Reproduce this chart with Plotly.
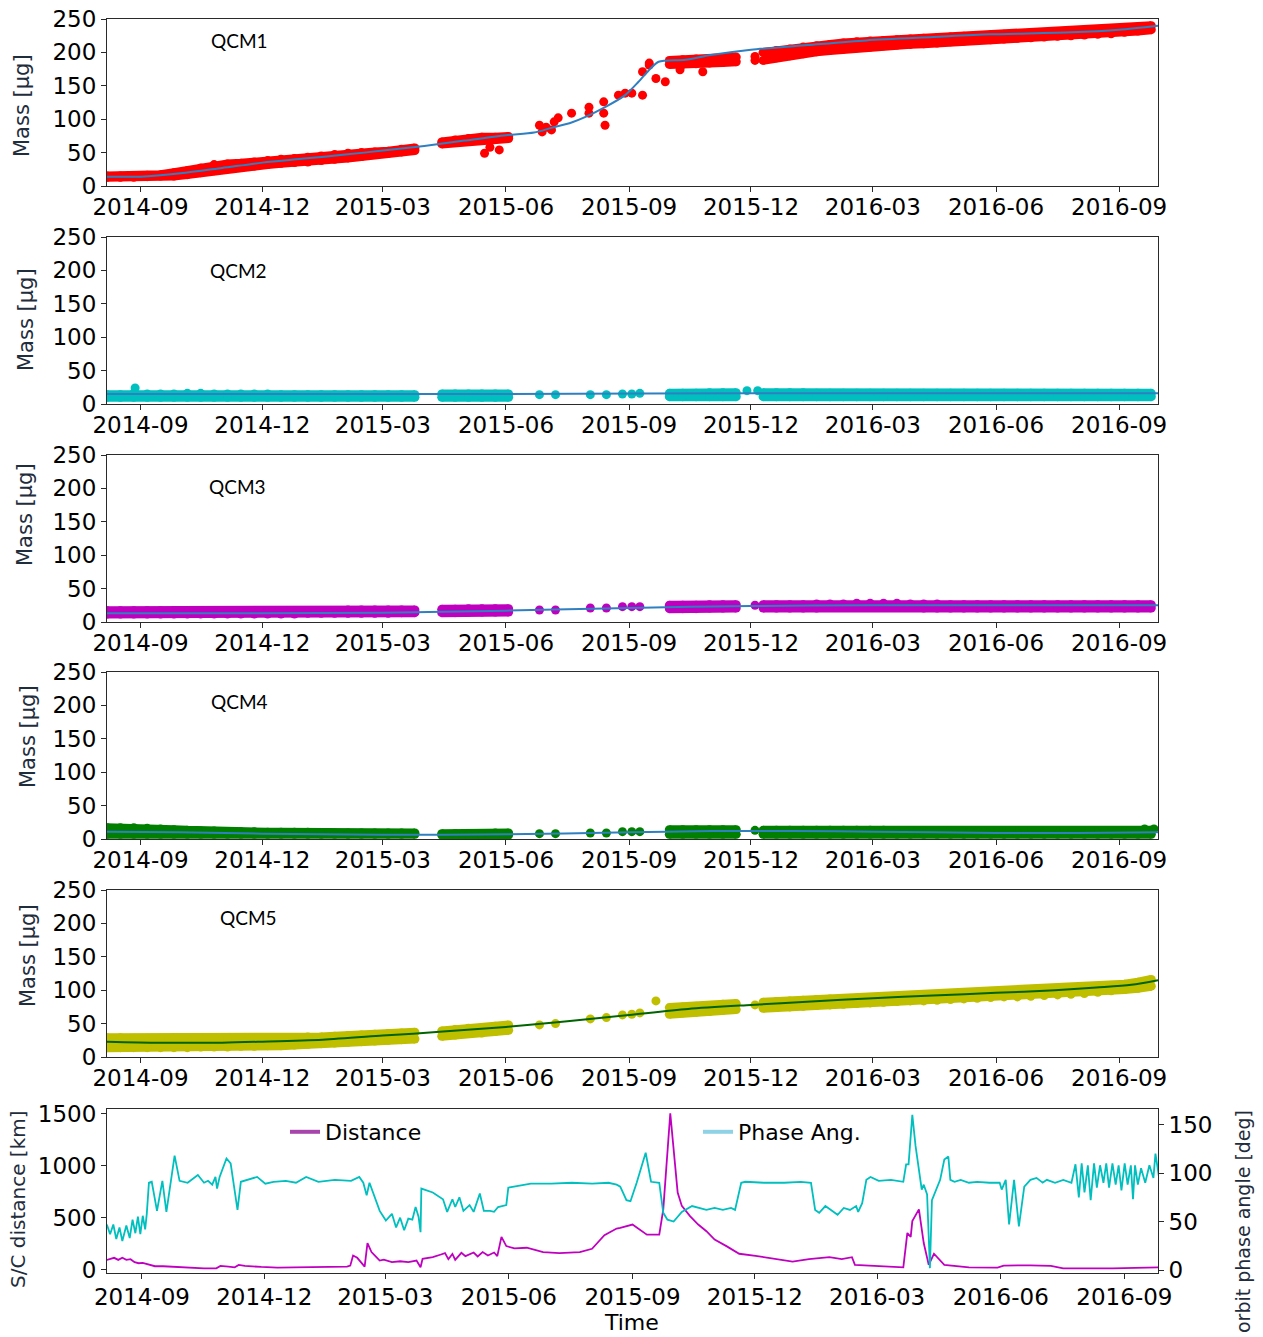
import pandas as pd
import plotly.graph_objects as go

# ---------------------------------------------------------------- data
# QCM mass bands: sampled every 10 days from grid_start (None = no data)
grid_start = "2014-08-07"
grid_step_days = 10
grid_len = 79

N11 = [None] * 11
qcm1_lo = [13, 13, 13, 14, 15, 15, 17, 20, 23, 26, 28, 30, 32, 34, 35, 36, 38, 40, 42, 44, 47, 49, 51, 53,
           None, 63, 65, 67, 69, 70, 71] + N11 + [182, 182, 183, 184, 185, 186, None,
           188, 192, 195, 198, 201, 203, 205, 207, 208, 210, 211, 212, 213, 214, 216, 217, 218, 219, 220, 221,
           222, 223, 224, 225, 226, 227, 228, 230, 232, 234]
qcm1_hi = [15, 15, 15, 16, 17, 20, 23, 27, 32, 33, 34, 36, 38, 40, 41, 43, 45, 47, 49, 50, 51, 52, 55, 57,
           None, 66, 69, 71, 73, 73, 74] + N11 + [188, 189, 190, 191, 192, 193, None,
           200, 203, 205, 208, 210, 212, 214, 216, 217, 218, 219, 220, 221, 222, 223, 224, 225, 226, 227, 228,
           229, 229, 230, 231, 232, 233, 234, 236, 238, 240]
qcm1_extra_dates = ["2015-05-16", "2015-05-20", "2015-05-27", "2015-06-26", "2015-06-28", "2015-07-01",
                    "2015-07-05", "2015-07-07", "2015-07-10", "2015-07-20", "2015-08-02", "2015-08-02",
                    "2015-08-13", "2015-08-13", "2015-08-14", "2015-08-24", "2015-08-29", "2015-09-03",
                    "2015-09-11", "2015-09-11", "2015-09-16", "2015-09-16", "2015-09-21", "2015-09-28",
                    "2015-10-09", "2015-10-26", "2015-12-04", "2015-12-04"]
qcm1_extra = [49, 58, 54, 91, 81, 88, 84, 96, 102, 109, 118, 109, 126, 109, 91, 136, 139, 139,
              136, 171, 181, 184, 161, 156, 174, 171, 194, 188]
qcm1_fit_dates = ["2014-08-07", "2014-09-01", "2014-10-01", "2014-11-01", "2014-12-01", "2015-01-01",
                  "2015-02-01", "2015-03-01", "2015-04-01", "2015-05-01", "2015-06-01", "2015-06-22",
                  "2015-07-05", "2015-07-20", "2015-07-30", "2015-08-14", "2015-08-29", "2015-09-08",
                  "2015-09-17", "2015-09-23", "2015-10-13", "2015-11-01", "2015-12-01", "2016-01-12",
                  "2016-02-25", "2016-04-15", "2016-05-27", "2016-07-27", "2016-09-01", "2016-09-30"]
qcm1_fit = [14, 14, 19, 27, 35, 41, 47, 53, 60, 68, 76, 80, 87, 95, 103, 118, 136, 156,
            176, 186, 189, 196, 204, 211, 218, 223, 227, 230, 234, 240]

qcm2_lo = [10] * 24 + [None] + [10] * 6 + N11 + [11] * 6 + [None] + [11] * 30
qcm2_hi = [14, 14, 16, 15, 15, 15, 16, 16, 15, 15, 15, 15, 15, 14, 14, 14, 14, 14, 14, 14, 14, 14, 14, 14,
           None, 15, 15, 15, 15, 15, 15] + N11 + [16, 16, 16, 17, 17, 17, None,
           17, 17, 17, 17, 16, 16, 16, 16, 16, 16, 16, 16, 16, 16, 16, 16, 16, 16, 16, 16,
           16, 16, 16, 16, 16, 16, 16, 16, 16, 16]
qcm2_extra_dates = ["2014-08-28", "2015-06-26", "2015-07-08", "2015-08-03", "2015-08-15", "2015-08-27",
                    "2015-09-03", "2015-09-09", "2015-11-28", "2015-12-06"]
qcm2_extra = [24, 14, 14, 14, 14, 15, 15, 16, 20, 20]
qcm2_fit_dates = ["2014-08-07", "2015-01-01", "2015-06-01", "2015-12-01", "2016-09-30"]
qcm2_fit = [15, 15, 15, 16, 16]

qcm3_lo = [12] * 15 + [13] * 7 + [14, 14, None, 14, 14, 15, 15, 15, 15] + N11 + [20, 20, 20, 21, 21, 21, None] \
    + [21, 21, 21, 21, 21, 22, 22, 22, 22, 22, 22, 22, 21, 21, 21, 21, 21, 21, 21, 21,
       21, 21, 21, 21, 21, 21, 21, 21, 21, 21]
qcm3_hi = [17, 17, 17, 17, 17, 16, 16, 16, 16, 16, 16, 16, 16, 17, 17, 17, 17, 17, 18, 18, 18, 18, 18, 18,
           None, 19, 19, 20, 20, 20, 20] + N11 + [25, 25, 25, 26, 26, 26, None,
           26, 26, 26, 26, 27, 27, 27, 28, 28, 28, 28, 27, 27, 27, 26, 26, 26, 26, 26, 26,
           26, 26, 26, 26, 26, 26, 26, 26, 26, 26]
qcm3_extra_dates = ["2015-06-26", "2015-07-08", "2015-08-03", "2015-08-15", "2015-08-27", "2015-09-03",
                    "2015-09-09", "2015-12-04"]
qcm3_extra = [18, 18, 21, 21, 23, 23, 23, 25]
qcm3_fit_dates = ["2014-08-07", "2014-12-01", "2015-03-01", "2015-06-01", "2015-09-01", "2015-12-01",
                  "2016-03-01", "2016-06-01", "2016-09-30"]
qcm3_fit = [13, 13, 14, 17, 21, 24, 25, 25, 25]

qcm4_lo = [7] * 24 + [None] + [6] * 6 + N11 + [7] * 6 + [None] + [7] * 30
qcm4_hi = [17, 17, 17, 16, 15, 14, 13, 12, 12, 11, 11, 11, 10, 10, 10, 10, 9, 9, 9, 9, 9, 9, 9, 9,
           None, 8, 8, 8, 8, 9, 9] + N11 + [14, 14, 14, 14, 14, 14, None,
           13, 13, 13, 13, 13, 13, 13, 13, 13, 13, 12, 12, 12, 12, 12, 11, 11, 11, 10, 10,
           10, 10, 10, 10, 10, 10, 11, 11, 12, 13]
qcm4_extra_dates = ["2015-06-26", "2015-07-08", "2015-08-03", "2015-08-15", "2015-08-27", "2015-09-03",
                    "2015-09-09", "2015-12-04", "2016-09-20", "2016-09-27"]
qcm4_extra = [8, 8, 9, 9, 11, 11, 11, 13, 15, 15]
qcm4_fit_dates = ["2014-08-07", "2014-10-01", "2014-12-01", "2015-03-01", "2015-06-01", "2015-09-01",
                  "2015-11-01", "2016-01-01", "2016-03-01", "2016-06-01", "2016-08-01", "2016-09-30"]
qcm4_fit = [11, 10, 8, 6.5, 7, 10, 12, 12, 11, 9, 9, 10]

qcm5_lo = [14, 14, 14, 14, 14, 14, 14, 15, 15, 15, 16, 16, 17, 17, 18, 19, 20, 21, 22, 23, 24, 25, 26, 27,
           None, 31, 33, 35, 36, 38, 40] + N11 + [64, 66, 67, 68, 70, 71, None,
           73, 74, 75, 76, 77, 78, 79, 80, 81, 82, 83, 84, 84, 85, 86, 87, 88, 89, 90, 90,
           91, 92, 93, 94, 95, 97, 99, 101, 103, 106]
qcm5_hi = [29, 29, 28, 28, 28, 27, 27, 27, 27, 27, 27, 27, 28, 28, 29, 30, 30, 31, 32, 33, 34, 35, 36, 37,
           None, 39, 41, 43, 44, 46, 48] + N11 + [74, 75, 76, 77, 79, 80, None,
           82, 83, 84, 85, 86, 87, 87, 88, 89, 90, 91, 92, 92, 93, 94, 95, 96, 97, 98, 98,
           99, 100, 101, 102, 103, 105, 107, 109, 112, 116]
qcm5_extra_dates = ["2015-06-26", "2015-07-08", "2015-08-03", "2015-08-15", "2015-08-27", "2015-09-03",
                    "2015-09-09", "2015-09-21", "2015-12-04"]
qcm5_extra = [48, 50, 57, 59, 63, 64, 66, 84, 78]
qcm5_fit_dates = ["2014-08-07", "2014-09-15", "2014-11-01", "2014-12-01", "2015-01-15", "2015-03-01",
                  "2015-04-15", "2015-06-01", "2015-07-15", "2015-09-01", "2015-10-15", "2015-12-01",
                  "2016-01-15", "2016-03-01", "2016-04-15", "2016-06-01", "2016-07-15", "2016-08-15",
                  "2016-09-10", "2016-09-30"]
qcm5_fit = [23, 21.5, 21.5, 23, 26, 32, 38, 45, 53, 63, 72, 78, 83, 88, 92, 96, 100, 104, 108, 115]

# Bottom panel: day offsets from 2014-09-01
orbit_epoch = "2014-09-01"
phase_day = [-26.1, -23.7, -21.3, -19.1, -16.7, -14.6, -11.6, -9.1, -7.0, -4.9, -3.0, -1.2, 0.6, 2.4, 3.6,
             5.2, 7.3, 11.2, 15.2, 18.2, 24.3, 28.0, 34.0, 41.6, 46.2, 49.2, 52.3, 54.7, 55.9, 57.8, 62.9,
             66.0, 71.1, 73.6, 85.7, 91.8, 97.9, 107.0, 114.6, 122.2, 131.3, 143.5, 155.6, 161.7, 164.7,
             167.2, 169.3, 173.9, 176.9, 181.5, 186.0, 189.1, 192.1, 195.1, 198.2, 201.2, 203.6, 205.8,
             207.3, 207.9, 216.4, 224.0, 227.1, 231.0, 233.1, 236.2, 239.2, 243.8, 246.8, 251.4, 254.4,
             259.0, 262.0, 265.0, 271.1, 272.6, 277.2, 289.4, 304.6, 319.8, 335.0, 347.1, 353.2,
             355.9, 360.5, 363.5, 368.1, 374.8, 378.8, 384.9, 387.9, 391.0, 395.6, 401.7, 409.3, 413.9,
             420.0, 426.1, 432.2, 438.3, 441.3, 445.9, 449.0, 462.7, 478.0, 490.2, 497.8, 500.9, 503.9,
             508.5, 514.6, 517.6, 522.2, 526.8, 531.4, 532.9, 535.9, 539.0, 542.1, 548.2, 557.3, 566.5,
             568.6, 570.4, 573.2, 575.6, 580.2, 581.7, 584.2, 586.3, 587.8, 590.9, 593.9, 597.0, 600.0,
             601.5, 604.6, 609.2, 615.3, 621.4, 630.6, 638.2, 639.7, 642.7, 645.2, 648.9, 652.5, 656.5,
             661.1, 665.6, 670.2, 673.3, 679.4, 685.5, 691.6, 694.6, 697.1, 699.2, 701.3, 703.8, 705.9,
             708.4, 710.5, 712.9, 715.4, 717.5, 719.6, 722.1, 724.5, 726.7, 728.8, 731.2, 733.4, 735.8,
             737.4, 738.9, 741.0, 743.4, 746.5, 749.6, 752.6, 754.1, 756.6]
phase_deg = [47, 37, 47, 32, 44, 30, 46, 33, 52, 38, 55, 37, 56, 42, 58,
             90, 91, 61, 92, 60, 118, 92, 90, 98, 90, 92, 88, 96, 84, 96, 115,
             110, 62, 91, 96, 89, 91, 92, 90, 96, 91, 93, 92, 96, 90,
             77, 90, 72, 61, 51, 58, 44, 54, 41, 53, 52, 65, 55,
             39, 84, 80, 73, 60, 73, 65, 75, 61, 67, 60, 79, 61,
             61, 60, 65, 67, 85, 86, 89, 89, 90, 89, 90, 88,
             86, 72, 71, 90, 121, 91, 90, 59, 52, 50, 60, 66, 64,
             62, 64, 62, 64, 62, 90, 91, 90, 90, 91, 90, 62, 59,
             66, 60, 57, 64, 62, 66, 60, 69, 93, 96, 92, 93, 91,
             109, 109, 160, 128, 83, 88, 78, 2, 72, 83, 93, 114, 117,
             93, 91, 93, 90, 91, 90, 90, 83, 93, 47, 93, 45, 86,
             93, 95, 90, 93, 90, 93, 90, 109, 75, 110, 80, 108, 72,
             110, 85, 108, 90, 110, 85, 110, 88, 108, 82, 110, 88, 108,
             73, 108, 88, 105, 90, 108, 95, 120, 97]
dist_day = [-26.1, -23.7, -20.7, -17.6, -14.6, -11.6, -8.5, -5.5, -2.4, 0.6, 3.6, 6.7, 9.7, 15.8, 21.9,
            31.0, 38.6, 46.2, 55.3, 58.4, 64.4, 69.0, 72.0, 76.6, 88.8, 100.9, 113.1, 131.3, 152.6,
            155.0, 157.1, 160.2, 163.2, 165.7, 167.8, 170.8, 173.9, 176.9, 179.9, 186.0, 192.1, 198.2,
            204.3, 205.8, 207.3, 208.8, 216.4, 222.5, 225.5, 228.0, 231.0, 233.1, 237.7, 240.7, 246.8,
            249.8, 253.5, 257.4, 262.0, 264.4, 267.5, 271.1, 277.2, 286.3, 298.5, 310.6, 325.8, 334.9,
            344.1, 353.2, 355.9, 365.0, 372.7, 375.7, 380.3, 384.9, 387.9, 393.1, 398.6, 401.7, 407.8,
            413.9, 420.0, 426.1, 435.2, 444.4, 456.6, 471.9, 484.1, 496.3, 511.5, 520.7, 528.3, 530.5,
            545.1, 566.5, 569.5, 572.0, 573.2, 578.1, 581.7, 585.4, 589.3, 597.0, 615.3, 636.6, 641.2,
            661.1, 676.3, 685.5, 722.1, 756.6]
dist_km = [97, 107, 117, 97, 117, 97, 104, 75, 65, 68, 58, 42, 36, 36, 32,
           29, 19, 16, 16, 39, 32, 26, 49, 39, 29, 23, 26, 29, 32,
           42, 139, 117, 75, 32, 259, 172, 130, 91, 100, 75, 84, 75,
           91, 58, 26, 107, 123, 149, 162, 104, 155, 97, 165, 133, 168,
           130, 172, 139, 168, 133, 318, 230, 207, 214, 172, 162, 172, 204,
           334, 399, 405, 437, 373, 340, 340, 340, 583, 1507, 745, 616, 518,
           437, 373, 292, 227, 156, 136, 104, 81, 104, 123, 104, 123, 49,
           42, 26, 356, 318, 470, 583, 259, 49, 156, 49, 26, 23, 42,
           45, 39, 16, 16, 26]

tick_dates = ["2014-09-01", "2014-12-01", "2015-03-01", "2015-06-01", "2015-09-01",
              "2015-12-01", "2016-03-01", "2016-06-01", "2016-09-01"]
tick_labels = ["2014-09", "2014-12", "2015-03", "2015-06", "2015-09",
               "2015-12", "2016-03", "2016-06", "2016-09"]
mass_ticks = [0, 50, 100, 150, 200, 250]
dist_ticks = [0, 500, 1000, 1500]
phase_ticks = [0, 50, 100, 150]
qcm_names = ["QCM1", "QCM2", "QCM3", "QCM4", "QCM5"]

# ---------------------------------------------------------------- layout helpers
W, H = 1263, 1337
PL, PR, PT, PB = 107, 1158, 19, 1273


def fx(x):
    return (x - PL) / (PR - PL)


def fy(y):
    return (PB - y) / (PB - PT)


panel_px = [(19, 186), (237, 404), (455, 622), (672, 839), (890, 1057), (1109, 1273)]

grid_dates = pd.date_range(grid_start, periods=grid_len, freq=f"{grid_step_days}D")
epoch = pd.Timestamp(orbit_epoch)
phase_dates = [epoch + pd.Timedelta(days=d) for d in phase_day]
dist_dates = [epoch + pd.Timedelta(days=d) for d in dist_day]

FONT = "DejaVu Sans"
AXC = "#2a2a2a"
DOT = 9
fig = go.Figure()


def add_band(lo, hi, color, k):
    segs, cur = [], []
    for d, l, h in zip(grid_dates, lo, hi):
        if l is None:
            if cur:
                segs.append(cur)
            cur = []
        else:
            cur.append((d, l, h))
    if cur:
        segs.append(cur)
    for s in segs:
        xs = [p[0] for p in s]
        lo_s = [p[1] for p in s]
        hi_s = [p[2] for p in s]
        fig.add_trace(go.Scatter(x=xs + xs[::-1] + [xs[0]], y=hi_s + lo_s[::-1] + [hi_s[0]], mode="lines",
                                 fill="toself", fillcolor=color, line=dict(color=color, width=0),
                                 xaxis=f"x{k}", yaxis=f"y{k}", showlegend=False, hoverinfo="skip"))
        for edge in (hi_s, lo_s):
            fig.add_trace(go.Scatter(x=xs, y=edge, mode="lines+markers", line=dict(color=color, width=DOT),
                                     marker=dict(color=color, size=DOT), xaxis=f"x{k}", yaxis=f"y{k}",
                                     showlegend=False, hoverinfo="skip"))


series = [
    (qcm1_lo, qcm1_hi, qcm1_extra_dates, qcm1_extra, qcm1_fit_dates, qcm1_fit, "#ff0000", "#2f7fc1"),
    (qcm2_lo, qcm2_hi, qcm2_extra_dates, qcm2_extra, qcm2_fit_dates, qcm2_fit, "#00bfbf", "#2f7fc1"),
    (qcm3_lo, qcm3_hi, qcm3_extra_dates, qcm3_extra, qcm3_fit_dates, qcm3_fit, "#bf00bf", "#2f7fc1"),
    (qcm4_lo, qcm4_hi, qcm4_extra_dates, qcm4_extra, qcm4_fit_dates, qcm4_fit, "#007f00", "#2f7fc1"),
    (qcm5_lo, qcm5_hi, qcm5_extra_dates, qcm5_extra, qcm5_fit_dates, qcm5_fit, "#bfbf00", "#006400"),
]
for i, (lo, hi, ed, ev, fd, fv, col, fcol) in enumerate(series):
    k = i + 1
    add_band(lo, hi, col, k)
    fig.add_trace(go.Scatter(x=ed, y=ev, mode="markers", marker=dict(color=col, size=DOT),
                             xaxis=f"x{k}", yaxis=f"y{k}", showlegend=False))
    fig.add_trace(go.Scatter(x=fd, y=fv, mode="lines", line=dict(color=fcol, width=2, shape="spline",
                                                                 smoothing=0.8),
                             xaxis=f"x{k}", yaxis=f"y{k}", showlegend=False))

# bottom panel
fig.add_trace(go.Scatter(x=phase_dates, y=phase_deg, mode="lines", line=dict(color="#00bfbf", width=1.8),
                         xaxis="x6", yaxis="y7", showlegend=False))
fig.add_trace(go.Scatter(x=dist_dates, y=dist_km, mode="lines", line=dict(color="#bf00bf", width=1.8),
                         xaxis="x6", yaxis="y6", showlegend=False))
fig.add_trace(go.Scatter(x=[None], y=[None], mode="lines", name="Distance",
                         line=dict(color="#a845ad", width=4), xaxis="x6", yaxis="y6", legend="legend"))
fig.add_trace(go.Scatter(x=[None], y=[None], mode="lines", name="Phase Ang.",
                         line=dict(color="#8fd2e6", width=4), xaxis="x6", yaxis="y7", legend="legend2"))

layout = dict(width=W, height=H, paper_bgcolor="white", plot_bgcolor="white",
              margin=dict(l=PL, r=W - PR, t=PT, b=H - PB, autoexpand=False), showlegend=True)

tickfont = dict(family=FONT, size=23, color="black")
for i, (top, bot) in enumerate(panel_px):
    k = i + 1
    sfx = "" if k == 1 else str(k)
    rng = ["2014-08-07", "2016-09-30"] if k < 6 else ["2014-08-06", "2016-09-26"]
    layout["xaxis" + sfx] = dict(domain=[0, 1], anchor="y" + str(k), range=rng, tickvals=tick_dates,
                                 ticktext=tick_labels, ticks="outside", ticklen=5, tickcolor=AXC,
                                 showline=True, mirror=True, linecolor=AXC, linewidth=1.2,
                                 ticklabelstandoff=-5 if k < 6 else -2, automargin=False,
                                 showgrid=False, zeroline=False, tickfont=tickfont)
    if k < 6:
        layout["yaxis" + sfx] = dict(domain=[fy(bot), fy(top)], anchor="x" + str(k), range=[0, 250],
                                     tickvals=mass_ticks, ticks="outside", ticklen=5, tickcolor=AXC,
                                     showline=True, mirror=True, linecolor=AXC, linewidth=1.2,
                                     automargin=False,
                                     showgrid=False, zeroline=False, tickfont=tickfont)
    else:
        layout["yaxis6"] = dict(domain=[fy(bot), fy(top)], anchor="x6", range=[-29, 1548],
                                tickvals=dist_ticks, ticks="outside", ticklen=5, tickcolor=AXC,
                                showline=True, mirror=True, linecolor=AXC, linewidth=1.2,
                                automargin=False,
                                showgrid=False, zeroline=False, tickfont=tickfont)
layout["yaxis7"] = dict(overlaying="y6", side="right", anchor="x6", range=[-3, 166], tickvals=phase_ticks,
                        ticks="outside", ticklen=5, tickcolor=AXC, showline=False, showgrid=False,
                        automargin=False, zeroline=False, tickfont=tickfont)

legfont = dict(family=FONT, size=22, color="black")
layout["legend"] = dict(x=fx(285), y=fy(1132), xanchor="left", yanchor="middle", bgcolor="rgba(0,0,0,0)",
                        font=legfont, itemwidth=30)
layout["legend2"] = dict(x=fx(698), y=fy(1132), xanchor="left", yanchor="middle", bgcolor="rgba(0,0,0,0)",
                         font=legfont, itemwidth=30)

ann = []
qcm_pos = [(239, 40), (238, 270), (237, 487), (239, 702), (248, 918)]
for name, (x, y) in zip(qcm_names, qcm_pos):
    ann.append(dict(text=name, x=fx(x), y=fy(y), xref="paper", yref="paper", showarrow=False,
                    font=dict(family="Lato", size=19, color="black"), xanchor="center", yanchor="middle"))
title_col = "#1f2d3d"
mass_pos = [(22, 106), (26, 320), (25, 515), (28, 737), (28, 956)]
for (x, y) in mass_pos:
    ann.append(dict(text="Mass [µg]", x=fx(x), y=fy(y), xref="paper", yref="paper", showarrow=False,
                    textangle=-90, font=dict(family=FONT, size=21, color=title_col),
                    xanchor="center", yanchor="middle"))
ann.append(dict(text="S/C distance [km]", x=fx(18), y=fy(1199), xref="paper", yref="paper", showarrow=False,
                textangle=-90, font=dict(family=FONT, size=20, color=title_col),
                xanchor="center", yanchor="middle"))
ann.append(dict(text="orbit phase angle [deg]", x=fx(1243), y=fy(1222), xref="paper", yref="paper",
                showarrow=False, textangle=-90, font=dict(family=FONT, size=19, color=title_col),
                xanchor="center", yanchor="middle"))
ann.append(dict(text="Time", x=fx(631), y=fy(1337), xref="paper", yref="paper", showarrow=False,
                font=dict(family=FONT, size=22, color="black"), xanchor="center", yanchor="bottom"))
layout["annotations"] = ann

fig.update_layout(**layout)
fig.write_html("out.html")
